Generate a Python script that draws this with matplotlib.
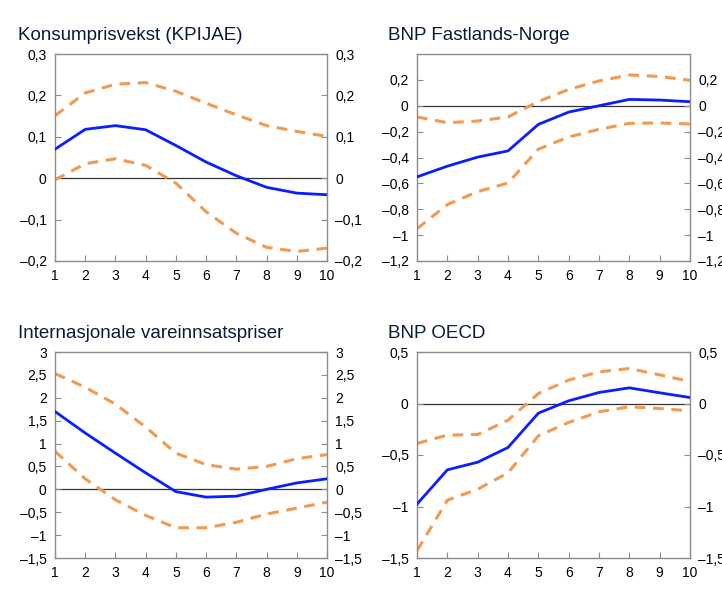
import matplotlib.pyplot as plt
from matplotlib.ticker import FuncFormatter

plt.rcParams['font.family'] = ['Liberation Sans', 'DejaVu Sans']

x = list(range(1, 11))

# Konsumprisvekst (KPIJAE)
kpi_mid = [0.070, 0.118, 0.127, 0.117, 0.079, 0.039, 0.006, -0.022, -0.036, -0.040]
kpi_hi = [0.151, 0.206, 0.227, 0.231, 0.210, 0.181, 0.153, 0.127, 0.113, 0.101]
kpi_lo = [-0.004, 0.035, 0.047, 0.031, -0.012, -0.081, -0.133, -0.167, -0.177, -0.169]

# BNP Fastlands-Norge
bnp_mid = [-0.55, -0.467, -0.397, -0.349, -0.144, -0.049, 0.0, 0.049, 0.044, 0.031]
bnp_hi = [-0.087, -0.131, -0.118, -0.087, 0.033, 0.126, 0.192, 0.238, 0.226, 0.197]
bnp_lo = [-0.951, -0.764, -0.664, -0.597, -0.336, -0.241, -0.182, -0.136, -0.133, -0.141]

# Internasjonale vareinnsatspriser
vip_mid = [1.70, 1.23, 0.79, 0.36, -0.05, -0.17, -0.15, 0.0, 0.14, 0.23]
vip_hi = [2.53, 2.23, 1.86, 1.36, 0.79, 0.54, 0.44, 0.50, 0.67, 0.76]
vip_lo = [0.83, 0.23, -0.23, -0.57, -0.84, -0.84, -0.72, -0.54, -0.41, -0.28]

# BNP OECD
oecd_mid = [-0.977, -0.644, -0.570, -0.427, -0.094, 0.026, 0.107, 0.152, 0.104, 0.058]
oecd_hi = [-0.388, -0.307, -0.301, -0.162, 0.097, 0.227, 0.307, 0.340, 0.278, 0.214]
oecd_lo = [-1.43, -0.939, -0.832, -0.673, -0.314, -0.184, -0.081, -0.032, -0.049, -0.071]

panels = [
    ("Konsumprisvekst (KPIJAE)", kpi_mid, kpi_hi, kpi_lo, (-0.2, 0.3), [-0.2, -0.1, 0, 0.1, 0.2, 0.3]),
    ("BNP Fastlands-Norge", bnp_mid, bnp_hi, bnp_lo, (-1.2, 0.4), [-1.2, -1, -0.8, -0.6, -0.4, -0.2, 0, 0.2]),
    ("Internasjonale vareinnsatspriser", vip_mid, vip_hi, vip_lo, (-1.5, 3), [-1.5, -1, -0.5, 0, 0.5, 1, 1.5, 2, 2.5, 3]),
    ("BNP OECD", oecd_mid, oecd_hi, oecd_lo, (-1.5, 0.5), [-1.5, -1, -0.5, 0, 0.5]),
]

# axes boxes in pixels: left, top, right, bottom
W, H = 722, 596
boxes = [(55, 54, 327, 261), (417, 54, 690, 261), (55, 352, 327, 558), (417, 352, 690, 558)]
title_pos = [(18, 35), (388, 35), (18, 333), (388, 333)]


def fmt(v, pos):
    s = ('%g' % round(v, 2)).replace('.', ',')
    return s.replace('-', '\u2013')


fig = plt.figure(figsize=(7.22, 5.96), dpi=100)
blue = '#0a1eff'
orange = '#f39a50'
grey = '#8c8c8c'

for (title, mid, hi, lo, ylim, ticks), (l, t, r, b), (tx, ty) in zip(panels, boxes, title_pos):
    ax = fig.add_axes([l / W, 1 - b / H, (r - l) / W, (b - t) / H])
    ax.axhline(0, color='#333333', lw=0.9, zorder=1)
    ax.plot(x, hi, color=orange, lw=2.2, ls=(0, (3.5, 2.5)), zorder=2)
    ax.plot(x, lo, color=orange, lw=2.2, ls=(0, (3.5, 2.5)), zorder=2)
    ax.plot(x, mid, color=blue, lw=2.0, zorder=3)
    ax.set_xlim(1, 10)
    ax.set_ylim(*ylim)
    ax.set_xticks(x)
    ax.set_yticks(ticks)
    ax.yaxis.set_major_formatter(FuncFormatter(fmt))
    ax.tick_params(axis='both', direction='in', color=grey, labelsize=10, length=4,
                   labelcolor='black', pad=6)
    ax.tick_params(axis='y', right=True, labelright=True)
    for sp in ax.spines.values():
        sp.set_color(grey)
        sp.set_linewidth(1.0)
    fig.text(tx / W, 1 - ty / H, title, fontsize=13.5, color='#0c1a3a', va='center', ha='left')

plt.savefig('out.png', dpi=100)
